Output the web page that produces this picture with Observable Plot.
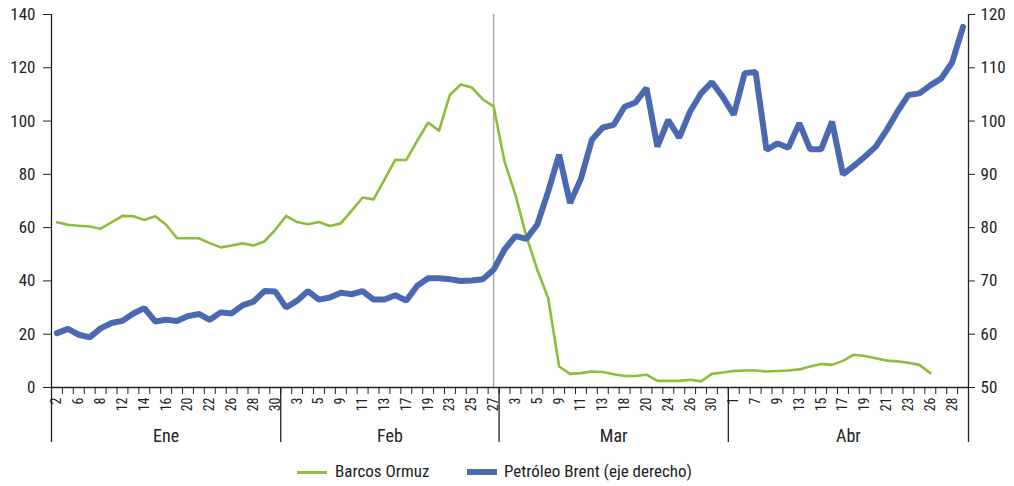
<!DOCTYPE html>
<html><head><meta charset="utf-8">
<script src="https://cdn.jsdelivr.net/npm/d3@7"></script>
<script src="https://cdn.jsdelivr.net/npm/@observablehq/plot@0.6"></script>
<style>
body{margin:0;background:#fff;}
#wrap{position:relative;width:1014px;height:486px;overflow:hidden;font-family:"Liberation Sans Narrow","Roboto Condensed","DejaVu Sans Condensed","Liberation Sans",sans-serif;color:#222;}
#legend{position:absolute;top:452px;left:0;width:1014px;height:34px;font-size:17px;}
.sw{position:absolute;}
.lt{position:absolute;top:9px;line-height:20px;white-space:nowrap;}
</style></head><body>
<div id="wrap"><div id="chart"></div>
<div id="legend">
  <div class="sw" style="left:297px;top:19px;width:30px;height:3px;background:#8fbc3b"></div>
  <div class="lt" style="left:335px">Barcos Ormuz</div>
  <div class="sw" style="left:467px;top:17px;width:30px;height:6px;background:#4a69b1"></div>
  <div class="lt" style="left:504px">Petróleo Brent (eje derecho)</div>
</div></div>
<script>
const months = ["Ene", "Feb", "Mar", "Abr"];
const daysEne = [2,5,6,7,8,9,12,13,14,15,16,19,20,21,22,23,26,27,28,29,30];
const daysFeb = [2,3,4,5,6,9,10,11,12,13,16,17,18,19,20,23,24,25,26,27];
const daysMar = [2,3,4,5,6,9,10,11,12,13,16,18,19,20,23,24,25,26,27,30,31];
const daysAbr = [1,2,7,8,9,10,13,14,15,16,17,18,19,20,21,22,23,24,26,27,28,29];
const leftTicks = [0,20,40,60,80,100,120,140];
const rightTicks = [50,60,70,80,90,100,110,120];
const barcosOrmuz = [62.0,61.1,60.7,60.4,59.6,62.0,64.4,64.3,62.9,64.3,61.1,56.0,56.0,56.0,54.2,52.6,53.3,54.1,53.3,54.8,59.2,
  64.4,62.1,61.3,62.1,60.6,61.6,66.4,71.3,70.6,78.0,85.5,85.4,92.6,99.4,96.4,109.9,113.7,112.6,108.2,105.5,
  84.8,72.3,56.7,44.2,33.5,7.9,5.1,5.4,6.0,5.8,5.0,4.3,4.3,4.8,2.5,2.5,2.5,2.9,2.3,5.1,5.6,
  6.2,6.4,6.4,6.0,6.2,6.4,6.8,7.9,8.8,8.5,10.0,12.3,11.8,11.0,10.1,9.8,9.3,8.5,5.4];
const brent = [60.2,61.0,59.9,59.4,61.1,62.1,62.5,63.9,64.9,62.4,62.7,62.5,63.4,63.8,62.7,64.1,63.9,65.4,66.1,68.1,68.0,
  65.0,66.3,68.1,66.5,66.9,67.8,67.5,68.1,66.5,66.5,67.3,66.3,69.1,70.5,70.5,70.3,70.0,70.1,70.3,72.1,
  75.9,78.4,77.9,80.6,86.8,93.7,84.6,89.2,96.5,98.8,99.3,102.7,103.5,106.2,95.2,100.2,96.9,101.8,105.2,107.3,104.5,
  101.2,109.0,109.2,94.6,95.8,95.0,99.6,94.7,94.7,99.9,90.0,91.6,93.3,95.2,98.3,101.8,104.9,105.2,106.7,108.0,111.0,117.7];
const markerMonth = 1, markerDay = 27; // línea vertical

const groups = [daysEne, daysFeb, daysMar, daysAbr];
const cats = groups.flatMap((g, m) => g.map(d => ({m, d})));
const N = cats.length;
const bounds = [0]; groups.forEach(g => bounds.push(bounds[bounds.length-1] + g.length));
const monthCenters = months.map((_, m) => (bounds[m] + bounds[m+1]) / 2);
const labelPos = cats.map((c, i) => i).filter(i => i % 2 === 0).map(i => i + 0.5);
const toLeft = v => (v - 50) * 2;
const markerIdx = cats.findIndex(c => c.m === markerMonth && c.d === markerDay);

const shipData = barcosOrmuz.map((v, i) => ({x: i + 0.5, y: v}));
const brentData = brent.map((v, i) => ({x: i + 0.5, y: toLeft(v)}));

const font = '"Liberation Sans Narrow","Roboto Condensed","DejaVu Sans Condensed","Liberation Sans",sans-serif';
const plot = Plot.plot({
  width: 1014, height: 452,
  marginLeft: 51, marginRight: 46, marginTop: 14, marginBottom: 65,
  style: {fontFamily: font, fontSize: "17px", color: "#222", background: "#fff"},
  x: {domain: [0, N], label: null},
  y: {domain: [0, 140], label: null},
  marks: [
    Plot.ruleX([markerIdx + 0.5], {stroke: "#a9a9a9", strokeWidth: 1.5}),
    Plot.line(shipData, {x: "x", y: "y", stroke: "#8fbc3b", strokeWidth: 2.6}),
    Plot.line(brentData, {x: "x", y: "y", stroke: "#4a69b1", strokeWidth: 6, strokeLinejoin: "miter"}),
    Plot.ruleX([0, N], {stroke: "#222", strokeWidth: 1.3}),
    Plot.ruleY([0], {stroke: "#222", strokeWidth: 1.3}),
    Plot.axisY({ticks: leftTicks, label: null, tickSize: 8, tickPadding: 8, fontSize: 17, stroke: "#222"}),
    Plot.axisY({anchor: "right", label: null, ticks: rightTicks.map(toLeft), tickFormat: d => d / 2 + 50, tickSize: 6, tickPadding: 6, fontSize: 17, stroke: "#222"}),
    Plot.axisX({ticks: d3.range(N + 1), label: null, tickSize: 7, tickFormat: () => "", stroke: "#222"}),
    Plot.axisX({ticks: bounds, label: null, tickSize: 55, tickFormat: () => "", stroke: "#222", strokeWidth: 1.3}),
    Plot.axisX({ticks: labelPos, label: null, tickSize: 0, tickPadding: 10, tickRotate: -90, fontSize: 14, tickFormat: d => String(cats[d - 0.5].d)}),
    Plot.axisX({ticks: monthCenters, label: null, tickSize: 0, tickPadding: 42, fontSize: 18, tickFormat: d => months[monthCenters.indexOf(d)]})
  ]
});
document.getElementById("chart").appendChild(plot);
</script>
</body></html>
